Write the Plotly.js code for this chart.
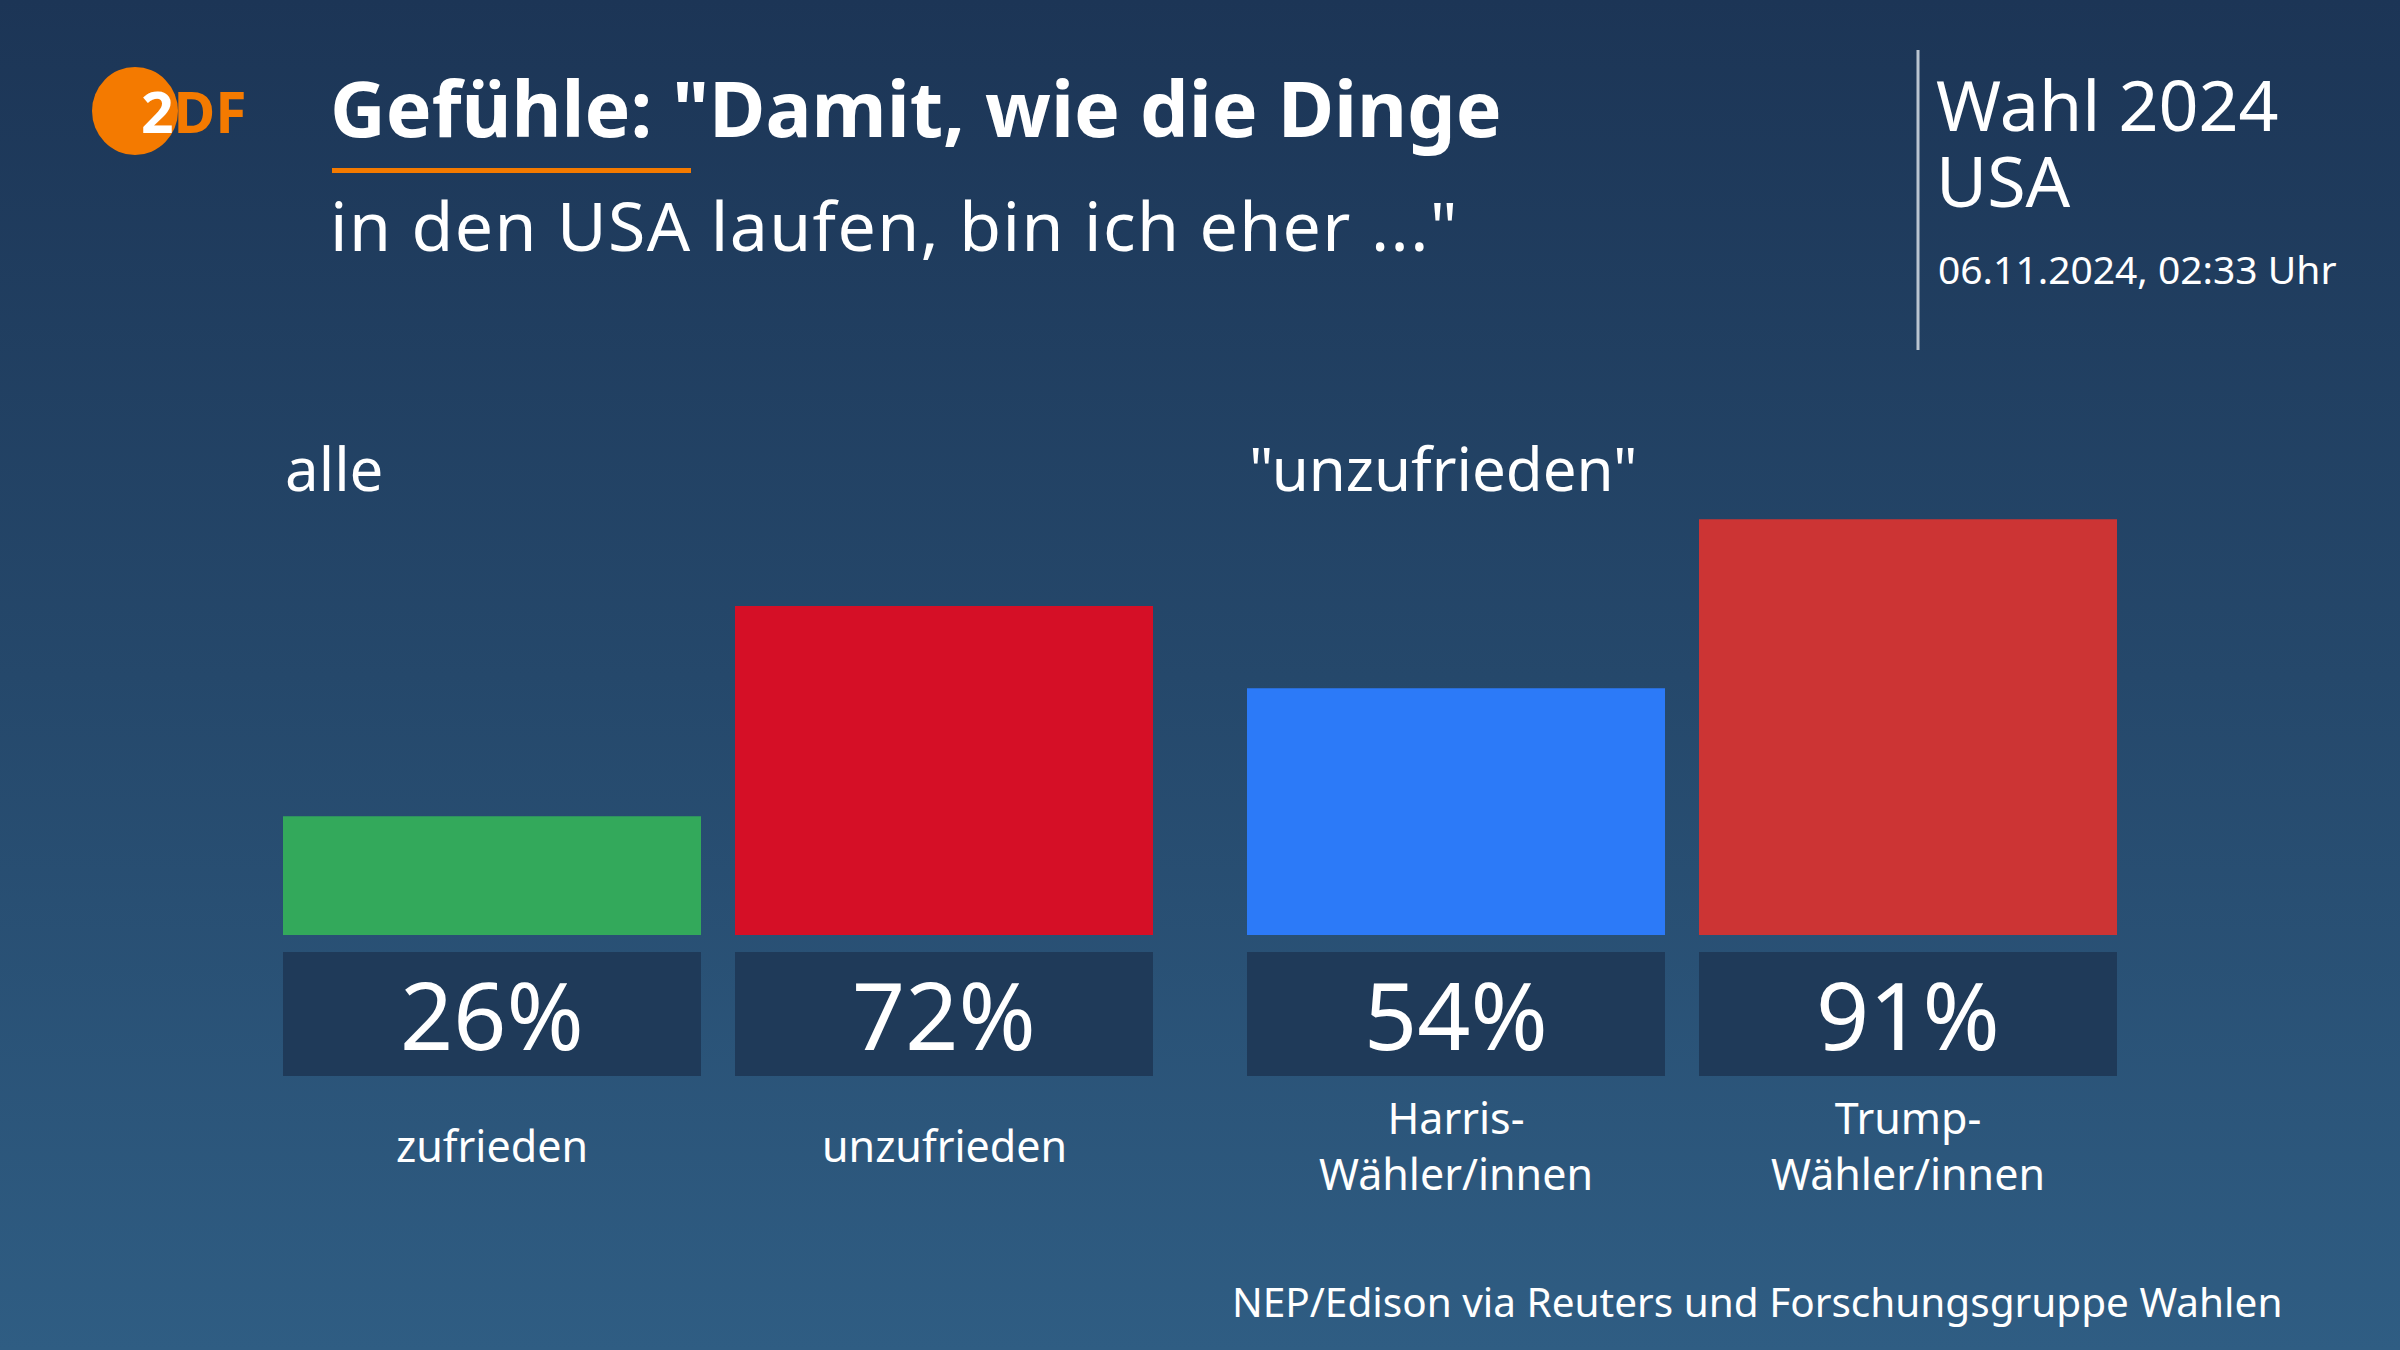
<!DOCTYPE html>
<html>
<head>
<meta charset="utf-8">
<script src="https://cdn.plot.ly/plotly-3.0.1.min.js"></script>
<style>
  html, body { margin: 0; padding: 0; }
  body { width: 2400px; height: 1350px; overflow: hidden;
         background: linear-gradient(to bottom, #1c3556 0%, #25486b 50%, #2f5d83 100%); }
  #chart { width: 2400px; height: 1350px; }
</style>
</head>
<body>
<div id="chart"></div>
<script>
// ---- data ----
const groupLabels = ['alle', '"unzufrieden"'];
const catsAll = ['zufrieden', 'unzufrieden'];
const valsAll = [26, 72];
const colorsAll = ['#33a95b', '#d50f26'];
const catsVoters = ['Harris-<br>Wähler/innen', 'Trump-<br>Wähler/innen'];
const valsVoters = [54, 91];
const colorsVoters = ['#2c7af8', '#cc3434'];
const titleLine1 = 'Gefühle: "Damit, wie die Dinge';
const titleLine2 = 'in den USA laufen, bin ich eher ..."';
const headerRight1 = 'Wahl 2024';
const headerRight2 = 'USA';
const dateText = '06.11.2024, 02:33 Uhr';
const sourceText = 'NEP/Edison via Reuters und Forschungsgruppe Wahlen';

// ---- layout helpers ----
const W = 2400, H = 1350;
const px = x => x / W;
const py = y => 1 - y / H;
const FONT = '"Noto Sans", "Open Sans", sans-serif';
const WHITE = '#ffffff';
const ORANGE = '#f47a00';
const BOX = '#1f3a59';
const GAP = 0.0752;

const traces = [
  { type: 'bar', x: catsAll, y: valsAll, xaxis: 'x', yaxis: 'y',
    marker: { color: colorsAll, line: { width: 0 } }, hoverinfo: 'skip' },
  { type: 'bar', x: catsVoters, y: valsVoters, xaxis: 'x2', yaxis: 'y',
    marker: { color: colorsVoters, line: { width: 0 } }, hoverinfo: 'skip' }
];

const shapes = [];
const annotations = [];

// value boxes, percent labels, category labels
const groups = [
  { cats: catsAll, vals: valsAll, xref: 'x' },
  { cats: catsVoters, vals: valsVoters, xref: 'x2' }
];
const BARW = 1 - GAP;
groups.forEach(g => {
  g.cats.forEach((c, i) => {
    shapes.push({ type: 'rect', xref: g.xref, yref: 'paper',
      x0: i - BARW / 2, x1: i + BARW / 2, y0: py(1076), y1: py(952),
      fillcolor: BOX, line: { width: 0 }, layer: 'above' });
    annotations.push({ xref: g.xref, yref: 'paper', x: c, y: py(1014),
      text: g.vals[i] + '%', showarrow: false, xanchor: 'center', yanchor: 'middle',
      font: { family: FONT, size: 93, color: WHITE } });
    annotations.push({ xref: g.xref, yref: 'paper', x: c, y: py(1145),
      text: c, showarrow: false, xanchor: 'center', yanchor: 'middle',
      font: { family: FONT, size: 43, color: WHITE } });
  });
});

// group labels
annotations.push({ xref: 'paper', yref: 'paper', x: px(283), y: py(468), text: groupLabels[0],
  showarrow: false, xanchor: 'left', yanchor: 'middle', font: { family: FONT, size: 60, color: WHITE } });
annotations.push({ xref: 'paper', yref: 'paper', x: px(1247), y: py(468), text: groupLabels[1],
  showarrow: false, xanchor: 'left', yanchor: 'middle', font: { family: FONT, size: 60, color: WHITE } });

// title
annotations.push({ xref: 'paper', yref: 'paper', x: px(328), y: py(108), text: '<b>' + titleLine1 + '</b>',
  showarrow: false, xanchor: 'left', yanchor: 'middle', font: { family: FONT, size: 77, color: WHITE } });
annotations.push({ xref: 'paper', yref: 'paper', x: px(328), y: py(224),
  text: '<span style="letter-spacing:1.4px">' + titleLine2 + '</span>',
  showarrow: false, xanchor: 'left', yanchor: 'middle', font: { family: FONT, size: 68, color: WHITE } });
shapes.push({ type: 'rect', xref: 'paper', yref: 'paper', x0: px(332), x1: px(691), y0: py(173), y1: py(168),
  fillcolor: ORANGE, line: { width: 0 } });

// logo
shapes.push({ type: 'circle', xref: 'paper', yref: 'paper', x0: px(92), x1: px(178), y0: py(155), y1: py(67),
  fillcolor: ORANGE, line: { width: 0 } });
annotations.push({ xref: 'paper', yref: 'paper', x: px(139), y: py(111),
  text: '<b><span style="color:#ffffff">2</span><span style="color:' + ORANGE + '">DF</span></b>',
  showarrow: false, xanchor: 'left', yanchor: 'middle', font: { family: FONT, size: 57, color: WHITE } });

// right header
shapes.push({ type: 'line', xref: 'paper', yref: 'paper', x0: px(1918), x1: px(1918), y0: py(50), y1: py(350),
  line: { color: '#b9c4d0', width: 3 } });
annotations.push({ xref: 'paper', yref: 'paper', x: px(1934), y: py(104), text: headerRight1,
  showarrow: false, xanchor: 'left', yanchor: 'middle', font: { family: FONT, size: 70, color: WHITE } });
annotations.push({ xref: 'paper', yref: 'paper', x: px(1934), y: py(180), text: headerRight2,
  showarrow: false, xanchor: 'left', yanchor: 'middle', font: { family: FONT, size: 70, color: WHITE } });
annotations.push({ xref: 'paper', yref: 'paper', x: px(1936), y: py(268), text: dateText,
  showarrow: false, xanchor: 'left', yanchor: 'middle', font: { family: FONT, size: 39, color: WHITE } });

// source
annotations.push({ xref: 'paper', yref: 'paper', x: px(2284), y: py(1301), text: sourceText,
  showarrow: false, xanchor: 'right', yanchor: 'middle', font: { family: FONT, size: 40.5, color: WHITE } });

const hiddenAxis = { showgrid: false, zeroline: false, showticklabels: false, ticks: '', showline: false, fixedrange: true };

const layout = {
  width: W, height: H,
  margin: { l: 0, r: 0, t: 0, b: 0, pad: 0 },
  paper_bgcolor: 'rgba(0,0,0,0)',
  plot_bgcolor: 'rgba(0,0,0,0)',
  showlegend: false,
  bargap: GAP,
  xaxis: Object.assign({ domain: [px(266), px(1170)], anchor: 'y', type: 'category', range: [-0.5, 1.5] }, hiddenAxis),
  xaxis2: Object.assign({ domain: [px(1230), px(2134)], anchor: 'y', type: 'category', range: [-0.5, 1.5] }, hiddenAxis),
  yaxis: Object.assign({ domain: [py(935), py(478)], range: [0, 100] }, hiddenAxis),
  shapes: shapes,
  annotations: annotations,
  font: { family: FONT, color: WHITE }
};

Plotly.newPlot('chart', traces, layout, { displayModeBar: false, staticPlot: true });
</script>
</body>
</html>
